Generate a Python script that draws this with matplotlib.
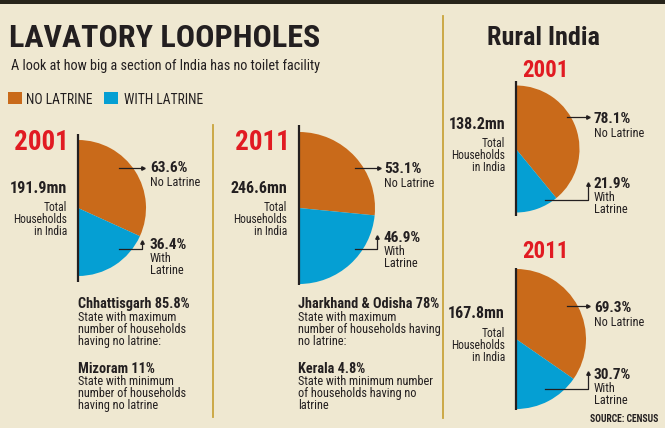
import matplotlib
matplotlib.use("Agg")
import matplotlib.pyplot as plt
from matplotlib import font_manager

# ---------------- data ----------------
panel_years = ["2001", "2011", "2001", "2011"]
total_households = ["191.9mn", "246.6mn", "138.2mn", "167.8mn"]
no_latrine = [63.6, 53.1, 78.1, 69.3]
with_latrine = [36.4, 46.9, 21.9, 30.7]
legend_labels = ["NO LATRINE", "WITH LATRINE"]
max_states = ["Chhattisgarh 85.8%", "Jharkhand & Odisha 78%"]
max_desc = [["State with maximum", "number of households", "having no latrine:"],
            ["State with maximum", "number of households having", "no latrine:"]]
min_states = ["Mizoram 11%", "Kerala 4.8%"]
min_desc = [["State with minimum", "number of households", "having no latrine"],
            ["State with minimum number", "of households having no", "latrine"]]

# ---------------- style ----------------
BG = "#EFE8D1"
ORANGE = "#C96A1A"
BLUE = "#059FD3"
RED = "#E11B22"
INK = "#231F20"
GOLD = "#C9A43C"

avail = {f.name for f in font_manager.fontManager.ttflist}
NARROW = [f for f in ["Liberation Sans Narrow", "Roboto Condensed", "Open Sans Condensed",
                      "Liberation Sans", "DejaVu Sans"] if f in avail] or ["DejaVu Sans"]
plt.rcParams["font.family"] = NARROW

W, H = 665, 428
fig = plt.figure(figsize=(W / 100, H / 100), dpi=100, facecolor=BG)
ax = fig.add_axes([0, 0, 1, 1])
ax.set_facecolor(BG)

# ---------------- pies (half pies, clockwise from top) ----------------
geo = [(78, 208, 68, 134, 282),
       (299, 208, 76, 125, 285),
       (516, 149, 63.5, 81, 216),
       (516, 339, 70, 268, 410)]
for i, (cx, cy, r, lt, lb) in enumerate(geo):
    wedges, _ = ax.pie([no_latrine[i], with_latrine[i], 100.0], center=(cx, cy), radius=r,
                       startangle=-90, counterclock=True,
                       colors=[ORANGE, BLUE, "none"], wedgeprops=dict(linewidth=0))
    ax.plot([cx, cx], [lt, lb], color=INK, lw=1.6, solid_capstyle="butt")

def txt(x, y, s, size, weight="normal", color=INK, ha="left"):
    ax.text(x, y, s, fontsize=size, fontweight=weight, color=color, ha=ha, va="baseline")

# top bar and separators
ax.fill_between([0, W], 0, 4, color="#27241A", lw=0)
ax.plot([213, 213], [125, 417], color=GOLD, lw=1.3)
ax.plot([443, 443], [16, 418], color=GOLD, lw=1.3)

# title / subtitle / legend
txt(9, 47, "LAVATORY LOOPHOLES", 23, "bold")
txt(11, 70, "A look at how big a section of India has no toilet facility", 10.3)
ax.add_patch(plt.Rectangle((8, 92), 14, 12, color=ORANGE, lw=0))
txt(26, 104, legend_labels[0], 9.8)
ax.add_patch(plt.Rectangle((104, 92), 14, 12, color=BLUE, lw=0))
txt(124, 104, legend_labels[1], 9.8)
txt(543, 45, "Rural India", 18.8, "bold", ha="center")

year_pos = [(41, 150, 19.5), (262, 150, 19.5), (545, 77, 16.5), (545, 258, 16.5)]
tot_pos = [(67, 193, 211), (287, 193, 211), (505, 129, 147), (505, 318, 337)]
pct_x = [150, 384, 594, 594]
no_base = [172, 173, 123, 312]
with_base = [249, 242, 188, 379]
lead_no = [(119, 143, 168), (355, 379, 168), (567, 588, 117), (567, 588, 306)]
lead_with = [(119, 142, 249, 242), (355, 377, 249, 237), (545, 588, 200, 184), (545, 588, 389, 373)]

for i in range(4):
    yx, yb, ys = year_pos[i]
    txt(yx, yb, panel_years[i], ys, "bold", RED, ha="center")
    tx, tb, lb = tot_pos[i]
    txt(tx, tb, total_households[i], 11.5, "bold", ha="right")
    for k, s in enumerate(["Total", "Households", "in India"]):
        txt(tx, lb + 12 * k, s, 8.3, ha="right")
    x = pct_x[i]
    txt(x, no_base[i], f"{no_latrine[i]:.1f}%", 11, "bold")
    txt(x, no_base[i] + 14, "No Latrine", 8.8)
    txt(x, with_base[i], f"{with_latrine[i]:.1f}%", 11, "bold")
    txt(x, with_base[i] + 13, "With", 8.8)
    txt(x, with_base[i] + 25, "Latrine", 8.8)
    x0, x1, yy = lead_no[i]
    ax.plot([x0, x1], [yy, yy], color=INK, lw=0.9)
    ax.plot([x1], [yy], marker=">", ms=2.5, color=INK)
    x0, x1, y0, y1 = lead_with[i]
    ax.plot([x0, x1, x1], [y0, y0, y1], color=INK, lw=0.9)
    ax.plot([x1], [y1], marker="^", ms=2.5, color=INK)

state_x = [78, 298]
for j in range(2):
    x = state_x[j]
    txt(x, 308, max_states[j], 10.3, "bold")
    for k, s in enumerate(max_desc[j]):
        txt(x, 321 + 12 * k, s, 8.8)
    txt(x, 373, min_states[j], 10.3, "bold")
    for k, s in enumerate(min_desc[j]):
        txt(x, 385 + 12 * k, s, 8.8)

txt(658, 422, "SOURCE: CENSUS", 6.9, "bold", ha="right")

ax.set_xlim(0, W)
ax.set_ylim(H, 0)
ax.set_aspect("auto")
ax.axis("off")
fig.savefig("out.png", dpi=100, facecolor=BG)
